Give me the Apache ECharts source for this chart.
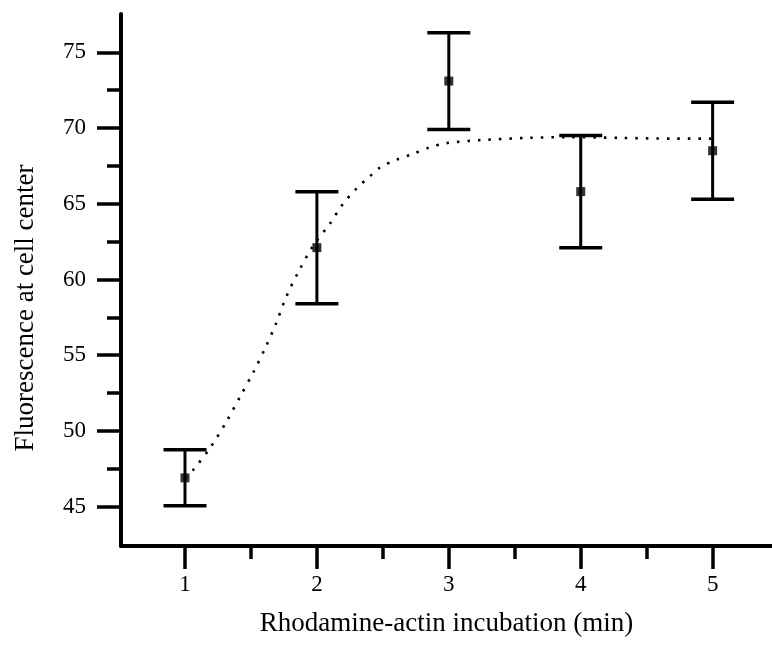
<!DOCTYPE html>
<html>
<head>
<meta charset="utf-8">
<script src="https://cdn.jsdelivr.net/npm/echarts@6/dist/echarts.min.js"></script>
<style>
html,body{margin:0;padding:0;background:#fff;}
#chart{width:772px;height:661px;}
</style>
</head>
<body>
<div id="chart"></div>
<script>
// ---- data ----
const xValues = [1, 2, 3, 4, 5];
const means   = [46.9, 62.1, 73.1, 65.8, 68.5];
const errors  = [1.85, 3.7, 3.2, 3.7, 3.2];

// dotted fitted curve
const curveX = [1.0, 1.06, 1.2, 1.32, 1.42, 1.52, 1.61, 1.69, 1.77, 1.86, 1.97, 2.1, 2.19, 2.3, 2.4, 2.48, 2.6, 2.73, 2.85, 2.98, 3.24, 3.6, 3.9, 4.3, 4.7, 5.0];
const curveY = [46.9, 47.4, 49.0, 50.7, 52.3, 53.9, 55.5, 57.1, 58.9, 60.5, 62.2, 63.7, 64.9, 66.0, 66.8, 67.4, 67.9, 68.3, 68.7, 69.0, 69.2, 69.35, 69.4, 69.35, 69.3, 69.3];

const xTickLabels = [1, 2, 3, 4, 5];
const xMinorTicks = [1.5, 2.5, 3.5, 4.5];
const yTickLabels = [45, 50, 55, 60, 65, 70, 75];
const yMinorTicks = [47.5, 52.5, 57.5, 62.5, 67.5, 72.5];

const xName = 'Rhodamine-actin incubation (min)';
const yName = 'Fluorescence at cell center';

// ---- build ----
const FONT = '"Liberation Serif", "DejaVu Serif", serif';
const INK = '#000';
const errData = xValues.map((x, i) => [x, means[i] - errors[i], means[i] + errors[i]]);
const pointData = xValues.map((x, i) => [x, means[i]]);
const curveData = curveX.map((x, i) => [x, curveY[i]]);

const X_MIN = 0.515, X_MAX = 5.45, Y_MIN = 42.4, Y_MAX = 77.53;

const chart = echarts.init(document.getElementById('chart'), null, {renderer: 'canvas'});
chart.setOption({
  backgroundColor: '#fff',
  animation: false,
  grid: {left: 121, right: 0, top: 14, bottom: 115, containLabel: false},
  xAxis: [
    {
      type: 'value', min: X_MIN, max: X_MAX, position: 'bottom',
      axisLine: {show: true, lineStyle: {color: INK, width: 4}},
      axisTick: {show: true, length: 23, lineStyle: {color: INK, width: 3.5}, customValues: xTickLabels},
      axisLabel: {show: true, customValues: xTickLabels, margin: 27, color: INK, fontFamily: FONT, fontSize: 23},
      splitLine: {show: false},
      name: xName, nameLocation: 'middle', nameGap: 64,
      nameTextStyle: {color: INK, fontFamily: FONT, fontSize: 27}
    },
    {
      type: 'value', min: X_MIN, max: X_MAX, position: 'bottom', offset: 0,
      axisLine: {show: false},
      axisTick: {show: true, length: 13, lineStyle: {color: INK, width: 3.5}, customValues: xMinorTicks},
      axisLabel: {show: false},
      splitLine: {show: false}
    }
  ],
  yAxis: [
    {
      type: 'value', min: Y_MIN, max: Y_MAX, position: 'left',
      axisLine: {show: true, lineStyle: {color: INK, width: 4}},
      axisTick: {show: true, length: 24, lineStyle: {color: INK, width: 3.5}, customValues: yTickLabels},
      axisLabel: {show: true, customValues: yTickLabels, margin: 35, color: INK, fontFamily: FONT, fontSize: 23},
      splitLine: {show: false},
      name: yName, nameLocation: 'middle', nameGap: 82,
      nameTextStyle: {color: INK, fontFamily: FONT, fontSize: 27, padding: [0, 56, 0, 0]}
    },
    {
      type: 'value', min: Y_MIN, max: Y_MAX, position: 'left', offset: 0,
      axisLine: {show: false},
      axisTick: {show: true, length: 14, lineStyle: {color: INK, width: 3.5}, customValues: yMinorTicks},
      axisLabel: {show: false},
      splitLine: {show: false}
    }
  ],
  series: [
    {
      type: 'line', data: curveData, xAxisIndex: 0, yAxisIndex: 0,
      smooth: 0.3, showSymbol: false, symbol: 'none',
      lineStyle: {color: INK, width: 2.6, type: [2.5, 8]},
      z: 2
    },
    {
      type: 'custom', data: errData, xAxisIndex: 0, yAxisIndex: 0,
      renderItem: function (params, api) {
        const x = api.value(0), lo = api.value(1), hi = api.value(2);
        const pLo = api.coord([x, lo]);
        const pHi = api.coord([x, hi]);
        const half = 21.5;
        const st = {stroke: INK, lineWidth: 3};
        const cap = {stroke: INK, lineWidth: 3.5};
        return {
          type: 'group',
          children: [
            {type: 'line', shape: {x1: pLo[0], y1: pLo[1], x2: pHi[0], y2: pHi[1]}, style: st},
            {type: 'line', shape: {x1: pHi[0] - half, y1: pHi[1], x2: pHi[0] + half, y2: pHi[1]}, style: cap},
            {type: 'line', shape: {x1: pLo[0] - half, y1: pLo[1], x2: pLo[0] + half, y2: pLo[1]}, style: cap}
          ]
        };
      },
      z: 3
    },
    {
      type: 'scatter', data: pointData, xAxisIndex: 0, yAxisIndex: 0,
      symbol: 'rect', symbolSize: 9,
      itemStyle: {color: INK},
      z: 4
    }
  ]
});
</script>
</body>
</html>
